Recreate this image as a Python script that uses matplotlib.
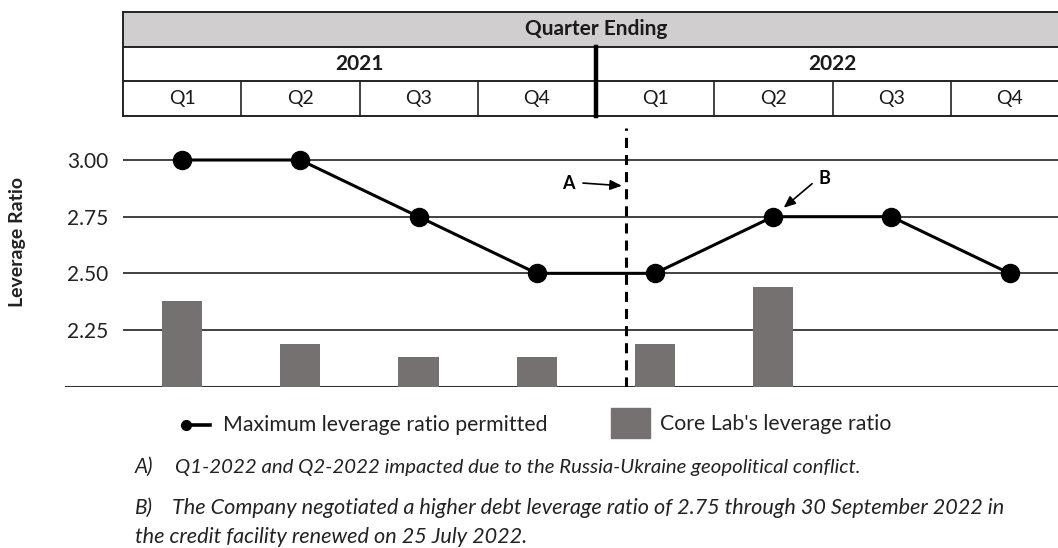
import matplotlib
matplotlib.use("Agg")
import matplotlib.pyplot as plt
from matplotlib.lines import Line2D
from matplotlib.patches import Rectangle

plt.rcParams["font.family"] = ["Lato", "DejaVu Sans"]

# data
years = ["2021", "2022"]
quarters = ["Q1", "Q2", "Q3", "Q4"]
max_permitted = [3.00, 3.00, 2.75, 2.50, 2.50, 2.75, 2.75, 2.50]
core_lab = [2.38, 2.19, 2.13, 2.13, 2.19, 2.44]
y_ticks = [2.25, 2.50, 2.75, 3.00]
legend_labels = ["Maximum leverage ratio permitted", "Core Lab's leverage ratio"]
note_a = "Q1-2022 and Q2-2022 impacted due to the Russia-Ukraine geopolitical conflict."
note_b = ["The Company negotiated a higher debt leverage ratio of 2.75 through 30 September 2022 in",
          "the credit facility renewed on 25 July 2022."]

W, H = 1058, 548
fig = plt.figure(figsize=(W / 100, H / 100), dpi=100)


def box(l, t, r, b):
    # pixel box -> figure fraction rect
    return [l / W, 1 - b / H, (r - l) / W, (b - t) / H]


def fx(px):
    return px / W


def fy(py):
    return 1 - py / H


col_w = 118.2
x_first = 182.1


def to_idx(px):
    return (px - x_first) / col_w


n = len(max_permitted)
xs = list(range(n))
event_x = to_idx(626)
bar_color = "#767171"

# --- chart ---
ax = fig.add_axes(box(65, 128, 1058, 386.7))
ax.set_xlim(to_idx(65), to_idx(1058))
ax.set_ylim(2.0, 2.0 + (386.7 - 128) / 226.7)
ax.hlines(y_ticks, -0.5, to_idx(1058), color="#333333", lw=1.3, zorder=1)
ax.axhline(2.0, color="#333333", lw=1.5, zorder=1)
ax.bar(xs[:len(core_lab)], core_lab, width=0.34, color=bar_color, zorder=2)
ax.plot(xs, max_permitted, color="black", lw=2.2, marker="o", ms=13, zorder=3)
ax.axvline(event_x, color="black", lw=2.2, ls=(0, (3.3, 2.3)), zorder=4)

for s in ax.spines.values():
    s.set_visible(False)
ax.set_xticks([])
ax.set_yticks(y_ticks)
ax.set_yticklabels([f"{v:.2f}" for v in y_ticks])
ax.tick_params(axis="y", length=0, pad=-31, labelsize=15, labelcolor="#222222")

# A / B call-outs
ax.annotate("", xy=(event_x, 2.885), xytext=(-43, 3), textcoords="offset pixels",
            arrowprops=dict(arrowstyle="-|>,head_length=0.7,head_width=0.3",
                            color="black", lw=1.2, shrinkA=0, shrinkB=3))
ax.annotate("A", xy=(event_x, 2.885), xytext=(-58, 3), textcoords="offset pixels",
            ha="center", va="center", fontsize=13, fontweight="bold")
ax.annotate("", xy=(xs[5], max_permitted[5]), xytext=(39, 33), textcoords="offset pixels",
            arrowprops=dict(arrowstyle="-|>,head_length=0.7,head_width=0.3",
                            color="black", lw=1.2, shrinkA=0, shrinkB=10))
ax.annotate("B", xy=(xs[5], max_permitted[5]), xytext=(51, 38), textcoords="offset pixels",
            ha="center", va="center", fontsize=13, fontweight="bold")

fig.text(fx(18), fy(242), "Leverage Ratio", rotation=90, ha="center", va="center",
         fontsize=14, fontweight="bold", color="#222222")

# --- quarter table on top ---
tab = fig.add_axes(box(123, 12, 1069, 116))
tab.set_xlim(-0.5, 7.5)
tab.set_ylim(0, 3)
tab.axis("off")
tab.add_patch(Rectangle((-0.5, 2), 8, 1, fc="#d0cece", ec="none"))
for yy in [0, 1, 2, 3]:
    tab.plot([-0.5, 7.5], [yy, yy], color="#222222", lw=1.4, clip_on=False)
tab.plot([-0.5, -0.5], [0, 3], color="#222222", lw=1.4, clip_on=False)
for k in range(n - 1):
    if k == 3:
        tab.plot([k + 0.5, k + 0.5], [0, 2], color="black", lw=3.2, clip_on=False)
    else:
        tab.plot([k + 0.5, k + 0.5], [0, 1], color="#222222", lw=1.2, clip_on=False)
tab.text(3.5, 2.5, "Quarter Ending", ha="center", va="center", fontsize=15,
         fontweight="bold", color="#1a1a1a")
for j, yr in enumerate(years):
    tab.text(1.5 + 4 * j, 1.5, yr, ha="center", va="center", fontsize=15,
             fontweight="bold", color="#1a1a1a")
for k in range(n):
    tab.text(k, 0.5, quarters[k % 4], ha="center", va="center", fontsize=14,
             color="#1a1a1a")

# --- legend (drawn by hand so the dot sits at the left end) ---
fig.add_artist(Line2D([fx(186), fx(210)], [fy(425), fy(425)], color="black", lw=2.6,
                      transform=fig.transFigure))
fig.add_artist(Line2D([fx(186)], [fy(425)], color="black", marker="o", ms=7,
                      transform=fig.transFigure))
fig.text(fx(223), fy(425), legend_labels[0], fontsize=15.3, va="center", ha="left",
         color="#222222")
fig.add_artist(Rectangle((fx(611), fy(438)), fx(39), 30 / H, color=bar_color,
                         transform=fig.transFigure))
fig.text(fx(660), fy(424), legend_labels[1], fontsize=15.3, va="center", ha="left",
         color="#222222")

# --- footnotes ---
note_kw = dict(style="italic", color="#222222", va="center", ha="left")
fig.text(fx(135), fy(467), "A)", fontsize=15, **note_kw)
fig.text(fx(175), fy(467), note_a, fontsize=14.7, **note_kw)
fig.text(fx(135), fy(508), "B)", fontsize=15, **note_kw)
fig.text(fx(172), fy(508), note_b[0], fontsize=15.6, **note_kw)
fig.text(fx(135), fy(537), note_b[1], fontsize=15.6, **note_kw)

fig.savefig("out.png", dpi=100)
